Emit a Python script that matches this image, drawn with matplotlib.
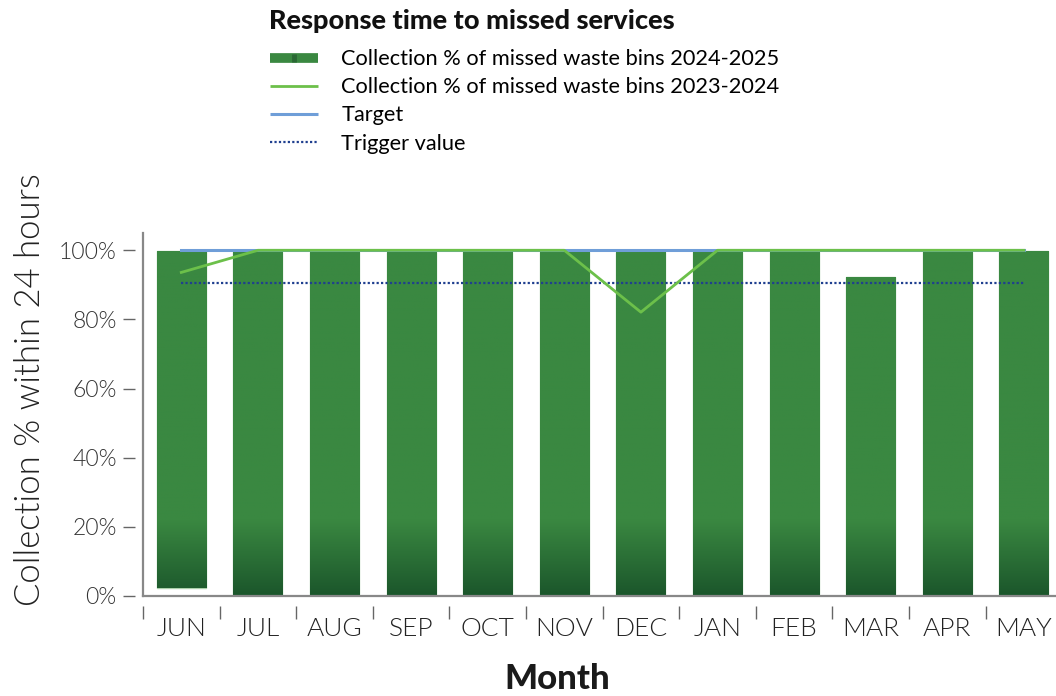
import numpy as np
import matplotlib
matplotlib.use("Agg")
import matplotlib.pyplot as plt
from matplotlib.lines import Line2D
from matplotlib.colors import LinearSegmentedColormap

# ---------------- data ----------------
months = ["JUN", "JUL", "AUG", "SEP", "OCT", "NOV", "DEC", "JAN", "FEB", "MAR", "APR", "MAY"]
pct_2024_25 = [99.7, 99.4, 99.4, 99.4, 99.4, 99.4, 99.4, 99.4, 99.4, 92.4, 99.5, 99.8]
bar_base_2024_25 = [2.4, 0, 0, 0, 0, 0, 0, 0, 0, 0, 0, 0]
pct_2023_24 = [93.6, 100, 100, 100, 100, 100, 82.1, 100, 100, 100, 100, 100]
target = [100] * 12
trigger = [90.5] * 12
yticks = [0, 20, 40, 60, 80, 100]
ytick_labels = ["0%", "20%", "40%", "60%", "80%", "100%"]

FONT = "Lato"
plt.rcParams["font.family"] = [FONT, "DejaVu Sans"]

W, H = 1056, 696
fig = plt.figure(figsize=(W / 100, H / 100), dpi=100)

# axes geometry (pixels)
left_px, bottom_px, top_px = 143, 596, 233
spacing = 76.6
right_px = left_px + 12 * spacing
ax = fig.add_axes([left_px / W, (H - bottom_px) / H,
                   (right_px - left_px) / W, (bottom_px - top_px) / H])
ax.set_xlim(-0.5, 11.5)
ax.set_ylim(0, 105)

x = np.arange(len(months))
bar_color = "#3a8841"
dark_color = "#1b562b"

# gradient colormap: dark at bottom, solid above ~22%
grad = np.linspace(0, 100, 400).reshape(-1, 1)
frac = np.clip(grad / 22.0, 0, 1)
cmap = LinearSegmentedColormap.from_list("g", [dark_color, bar_color])

heights = [v - b for v, b in zip(pct_2024_25, bar_base_2024_25)]
bars = ax.bar(x, heights, bottom=bar_base_2024_25, width=0.64, color=bar_color,
              edgecolor="#a9cfa9", linewidth=1.0, zorder=2)
for b in bars:
    bx = b.get_x()
    bw = b.get_width()
    im = ax.imshow(frac, cmap=cmap, origin="lower", aspect="auto",
                   extent=[bx, bx + bw, 0, 100], zorder=2.1, vmin=0, vmax=1)
    im.set_clip_path(b)
    ax.set_xlim(-0.5, 11.5)
    ax.set_ylim(0, 105)

ax.plot(x, target, color="#6f9ed8", lw=2.2, zorder=3)
ax.plot(x, trigger, color="#1f3f8f", lw=1.6, ls=(0, (1, 1)), zorder=3)
ax.plot(x, pct_2023_24, color="#6cc04a", lw=2.0, zorder=4)

# axes styling
for s in ["top", "right", "left", "bottom"]:
    ax.spines[s].set_visible(False)
ax.spines["left"].set_position(("outward", 6))
ax.spines["bottom"].set_position(("outward", 7))
ax.plot([0, 0], [0, 1], transform=ax.transAxes, color="#888888", lw=1.6,
        clip_on=False, zorder=5)
ax.plot([0, 1], [0, 0], transform=ax.transAxes, color="#888888", lw=1.6,
        clip_on=False, zorder=5)

ax.set_yticks(yticks)
ax.set_yticklabels(ytick_labels, fontsize=16.5, fontweight=300, color="#333333")
ax.tick_params(axis="y", length=9, width=1.0, color="#666666", pad=4)

ax.set_xticks(x)
ax.set_xticklabels(months, fontsize=19, fontweight=300, color="#222222")
ax.set_xticks(np.arange(-0.5, 12, 1), minor=True)
ax.tick_params(axis="x", which="major", length=0, pad=8)
ax.tick_params(axis="x", which="minor", length=9, width=1.0, color="#666666")

fig.text(30 / W, 1 - 390 / H, "Collection % within 24 hours", rotation=90,
         fontsize=25, fontweight=300, color="#222222", ha="center", va="center")
fig.text(557 / W, 1 - 679 / H, "Month", fontsize=25, fontweight=900,
         color="#1a1a1a", ha="center", va="center")
fig.text(269 / W, 1 - 9 / H, "Response time to missed services", fontsize=19.5,
         fontweight=900, color="#111111", ha="left", va="top")

handles = [
    Line2D([], [], color=bar_color, lw=7, solid_capstyle="butt", marker="|",
           markersize=5.2, markeredgewidth=3.5, markeredgecolor="#2a6834"),
    Line2D([], [], color="#6cc04a", lw=2.0, solid_capstyle="butt"),
    Line2D([], [], color="#6f9ed8", lw=2.2, solid_capstyle="butt"),
    Line2D([], [], color="#1f3f8f", lw=1.6, ls=(0, (1, 1))),
]
labels = ["Collection % of missed waste bins 2024-2025",
          "Collection % of missed waste bins 2023-2024",
          "Target", "Trigger value"]
fig.legend(handles, labels, loc="upper left", bbox_to_anchor=(266 / W, 1 - 45 / H),
           frameon=False, fontsize=15.7, handlelength=2.2, handletextpad=1.05,
           labelspacing=0.37, borderaxespad=0, borderpad=0.2, numpoints=1)

fig.savefig("out.png", dpi=100)
